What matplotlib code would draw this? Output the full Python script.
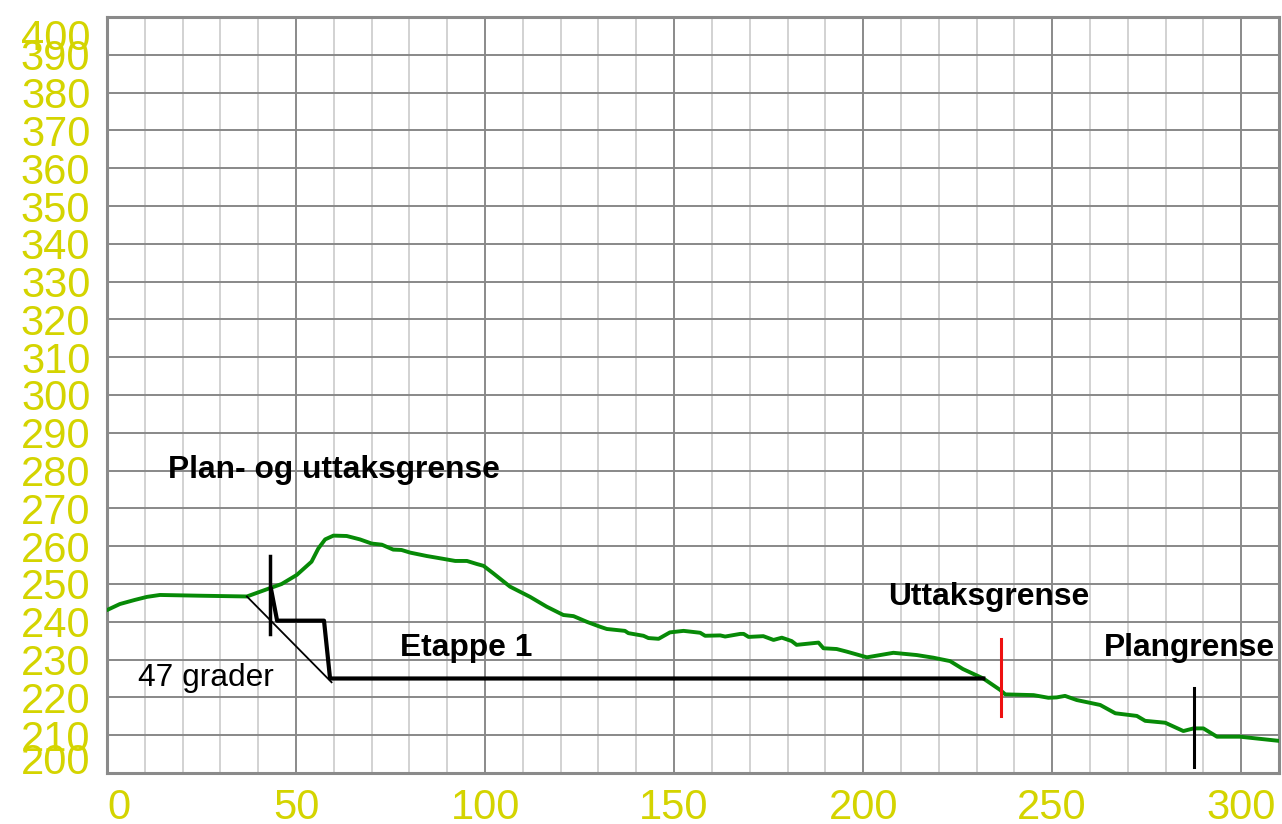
import matplotlib
matplotlib.use("Agg")
import matplotlib.pyplot as plt
from matplotlib.transforms import ScaledTranslation

plt.rcParams['font.family'] = ['Liberation Sans', 'DejaVu Sans']

# Terrain profile (distance in m, elevation in m.o.h.)
terrain_x = [0, 3.4, 7.4, 10.6, 14, 24.6, 37, 43.1, 46.2, 50.2, 54.1, 55.9, 57.7, 59.9,
             63.4, 66.9, 70, 72.7, 75.7, 77.9, 80.2, 84.6, 88.1, 92.1, 95.2, 97.8, 99.6,
             102.2, 106.6, 111.9, 116.3, 120.7, 123.4, 126.9, 130.4, 132.2, 137, 137.9,
             141.9, 143.2, 145.9, 148.9, 152.5, 156.9, 158.2, 162.2, 163.5, 167.5, 168.4,
             169.7, 173.6, 176.3, 178.5, 181.1, 182.4, 188.2, 189.5, 193, 195.7, 201, 208,
             214.2, 218.6, 223, 226.4, 231.8, 236.2, 237.6, 245.1, 249, 251.2, 253.4, 256.5,
             262.7, 266.7, 272.4, 274.6, 279.9, 284.7, 287.4, 290, 293.6, 299.7, 310]
terrain_y = [243.1, 244.7, 245.8, 246.6, 247.1, 246.9, 246.7, 248.9, 250, 252.4, 255.9,
             259.4, 261.8, 262.8, 262.7, 261.8, 260.7, 260.4, 259.1, 259, 258.3, 257.4,
             256.8, 256.1, 256.1, 255.3, 254.8, 252.8, 249.3, 246.6, 244, 241.8, 241.5,
             240, 238.7, 238.1, 237.6, 237, 236.3, 235.7, 235.5, 237.2, 237.6, 237.1,
             236.3, 236.4, 236.1, 236.8, 236.8, 236, 236.2, 235.2, 235.8, 234.9, 233.9,
             234.5, 233, 232.8, 232.1, 230.6, 231.8, 231.2, 230.5, 229.6, 227.5, 225,
             222, 220.8, 220.6, 219.9, 220, 220.4, 219.3, 218, 215.8, 215.1, 213.8,
             213.3, 211.1, 211.8, 211.8, 209.6, 209.6, 208.5]

# Excavation stage 1 outline
etappe_x = [43.4, 45, 57.4, 59, 231.8]
etappe_y = [248.6, 240.3, 240.3, 225, 225]

# 47 degree slope line
slope_x = [37, 59.4]
slope_y = [246.7, 224]

# Boundary markers: (x, y_bottom, y_top)
plan_uttak_marker = (43.2, 236.8, 257.4)
uttak_marker = (236.5, 215, 235.4)
plan_marker = (287.4, 201.7, 222.6)

x_ticks = [0, 50, 100, 150, 200, 250, 300]
y_ticks = list(range(200, 401, 10))

fig = plt.figure(figsize=(12.82, 8.24), dpi=100)
ax = fig.add_axes([107 / 1282, 51 / 824, 1172 / 1282, 756 / 824])
ax.set_xlim(0, 310)
ax.set_ylim(200, 400)

# Grid: light minor verticals, darker major verticals and horizontals
for xv in range(10, 310, 10):
    major = xv % 50 == 0
    ax.axvline(xv, color='#8a8a8a' if major else '#d2d2d2', lw=1.4, zorder=0)
for yv in range(210, 400, 10):
    ax.axhline(yv, color='#888888', lw=1.4, zorder=0)

for sp in ax.spines.values():
    sp.set_color('#8a8a8a')
    sp.set_linewidth(2.2)

ax.plot(terrain_x, terrain_y, color='#078a07', lw=2.8, zorder=3,
        solid_joinstyle='round', solid_capstyle='round')
ax.plot(slope_x, slope_y, color='black', lw=1.3, zorder=4)
ax.plot(etappe_x, etappe_y, color='black', lw=3.0, zorder=4)
ax.plot([plan_uttak_marker[0]] * 2, plan_uttak_marker[1:], color='black', lw=2.5, zorder=5)
ax.plot([uttak_marker[0]] * 2, uttak_marker[1:], color='#ee1111', lw=2.2, zorder=5)
ax.plot([plan_marker[0]] * 2, plan_marker[1:], color='black', lw=2.2, zorder=5)

txt = dict(fontsize=22.9, color='black', va='center', ha='left', zorder=6)
ax.text(16.1, 280.2, 'Plan- og uttaksgrense', fontweight='bold', **txt)
ax.text(77.5, 233.0, 'Etappe 1', fontweight='bold', **txt)
ax.text(206.6, 246.6, 'Uttaksgrense', fontweight='bold', **txt)
ax.text(263.8, 233.0, 'Plangrense', fontweight='bold', **txt)
ax.text(8.2, 225.1, '47 grader', **txt)

tick_color = '#d4d400'
ax.set_xticks(x_ticks)
ax.set_yticks(y_ticks)
ax.tick_params(axis='both', length=0, labelsize=30, labelcolor=tick_color)
ax.tick_params(axis='y', pad=12)
ax.tick_params(axis='x', pad=11)

# Edge labels are nudged inwards
ylabels = ax.get_yticklabels()
ylabels[0].set_transform(ylabels[0].get_transform() + ScaledTranslation(0, 15 / 100, fig.dpi_scale_trans))
ylabels[-1].set_transform(ylabels[-1].get_transform() + ScaledTranslation(0, -17 / 100, fig.dpi_scale_trans))
xlabels = ax.get_xticklabels()
xlabels[0].set_horizontalalignment('left')

fig.savefig('out.png', dpi=100)
